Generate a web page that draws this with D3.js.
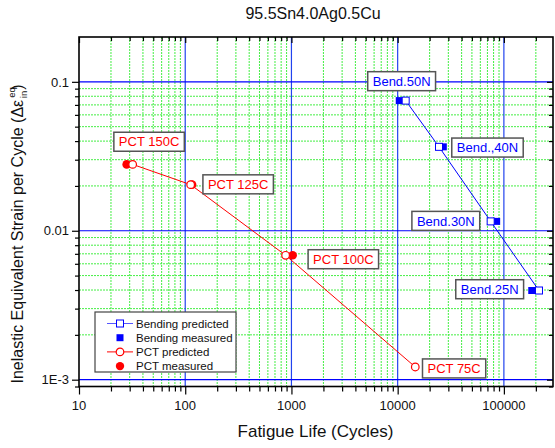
<!DOCTYPE html>
<html>
<head>
<meta charset="utf-8">
<script src="https://cdn.jsdelivr.net/npm/d3@7"></script>
<style>
  body { margin: 0; background: #fff; }
  svg { font-family: "Liberation Sans", Arial, sans-serif; }
</style>
</head>
<body>
<svg id="chart" width="555" height="448"></svg>
<script>
// --- data ---
const bendLabels = ["Bend.50N", "Bend.,40N", "Bend.30N", "Bend.25N"];
const bendPredLife = [11900, 24500, 75100, 214000];
const bendMeasLife = [10350, 26900, 85500, 183000];
const bendStrain = [0.0748, 0.0366, 0.01156, 0.00397];
// where each label box sits (data units, box centre)
const bendLabelLife = [10900, 70100, 28400, 73500];
const bendLabelStrain = [0.101, 0.0362, 0.01165, 0.00405];

const pctLabels = ["PCT 150C", "PCT 125C", "PCT 100C", "PCT 75C"];
const pctPredLife = [32, 112.5, 881, 14650];
const pctMeasLife = [28.1, 116, 1026, null];
const pctStrain = [0.0279, 0.0204, 0.00684, 0.001217];
const pctLabelLife = [45.7, 315, 3080, 34000];
const pctLabelStrain = [0.0396, 0.0205, 0.00644, 0.00119];

const xMajorTicks = [10, 100, 1000, 10000, 100000];
const xTickLabels = ["10", "100", "1000", "10000", "100000"];
const yMajorTicks = [0.001, 0.01, 0.1];
const yTickLabels = ["1E-3", "0.01", "0.1"];

const legendItems = ["Bending predicted", "Bending measured", "PCT predicted", "PCT measured"];

const svg = d3.select("#chart");
const margin = { left: 79, top: 37, right: 2, bottom: 61.5 };
const width = 555 - margin.left - margin.right;
const height = 448 - margin.top - margin.bottom;

const x = d3.scaleLog().domain([10, 290000]).range([0, width]);
const y = d3.scaleLog().domain([0.0009, 0.2]).range([height, 0]);

const g = svg.append("g").attr("transform", `translate(${margin.left},${margin.top})`);

// minor positions: 2..9 in every decade
const minorOf = (lo, hi) => {
  const out = [];
  for (let d = lo; d < hi; d *= 10)
    for (let k = 2; k <= 9; k++) out.push(d * k);
  return out;
};
const xMinor = minorOf(10, 1e6).filter(v => v < x.domain()[1]);
const yMinor = minorOf(0.0001, 1).filter(v => v > y.domain()[0] && v < y.domain()[1]);

// grid
const grid = g.append("g");
grid.selectAll(".xminor").data(xMinor).join("line")
    .attr("x1", d => x(d)).attr("x2", d => x(d)).attr("y1", 0).attr("y2", height)
    .attr("stroke", "#44ee44").attr("stroke-dasharray", "2,1");
grid.selectAll(".yminor").data(yMinor).join("line")
    .attr("y1", d => y(d)).attr("y2", d => y(d)).attr("x1", 0).attr("x2", width)
    .attr("stroke", "#44ee44").attr("stroke-dasharray", "2,1");
grid.selectAll(".xmajor").data(xMajorTicks.slice(1)).join("line")
    .attr("x1", d => x(d)).attr("x2", d => x(d)).attr("y1", 0).attr("y2", height)
    .attr("stroke", "#2244ee").attr("stroke-width", 1.2);
grid.selectAll(".ymajor").data(yMajorTicks).join("line")
    .attr("y1", d => y(d)).attr("y2", d => y(d)).attr("x1", 0).attr("x2", width)
    .attr("stroke", "#0000ff").attr("stroke-width", 1.2);

// axes (ticks only, labels drawn separately)
const tickStyle = sel => {
  sel.select(".domain").remove();
  sel.selectAll("line").attr("stroke", "#000").attr("stroke-width", 1.2);
  sel.selectAll("text").remove();
};
g.append("g").attr("transform", `translate(0,${height})`)
    .call(d3.axisBottom(x).tickValues(xMajorTicks).tickSize(8)).call(tickStyle);
g.append("g").attr("transform", `translate(0,${height})`)
    .call(d3.axisBottom(x).tickValues(xMinor).tickSize(5)).call(tickStyle);
g.append("g").call(d3.axisBottom(x).tickValues(xMajorTicks).tickSize(6)).call(tickStyle);
g.append("g").call(d3.axisBottom(x).tickValues(xMinor).tickSize(4)).call(tickStyle);
g.append("g").call(d3.axisLeft(y).tickValues(yMajorTicks).tickSize(7)).call(tickStyle);
g.append("g").call(d3.axisLeft(y).tickValues(yMinor).tickSize(4)).call(tickStyle);
g.append("g").attr("transform", `translate(${width},0)`)
    .call(d3.axisLeft(y).tickValues(yMajorTicks).tickSize(6)).call(tickStyle);
g.append("g").attr("transform", `translate(${width},0)`)
    .call(d3.axisLeft(y).tickValues(yMinor).tickSize(4)).call(tickStyle);

g.append("rect").attr("width", width).attr("height", height)
    .attr("fill", "none").attr("stroke", "#000").attr("stroke-width", 1.6);

// tick labels
g.selectAll(".xlab").data(xMajorTicks).join("text")
    .attr("x", d => x(d)).attr("y", height + 23)
    .attr("text-anchor", "middle").attr("font-size", 13).attr("fill", "#111")
    .text((d, i) => xTickLabels[i]);
g.selectAll(".ylab").data(yMajorTicks).join("text")
    .attr("x", -10).attr("y", d => y(d)).attr("dy", "0.36em")
    .attr("text-anchor", "end").attr("font-size", 13).attr("fill", "#111")
    .text((d, i) => yTickLabels[i]);

// lines + markers
const line = d3.line().x(d => x(d[0])).y(d => y(d[1]));
const bendPred = bendPredLife.map((v, i) => [v, bendStrain[i]]);
const bendMeas = bendMeasLife.map((v, i) => [v, bendStrain[i]]);
const pctPred = pctPredLife.map((v, i) => [v, pctStrain[i]]);
const pctMeas = pctMeasLife.map((v, i) => [v, pctStrain[i]]).filter(d => d[0] != null);

g.append("path").attr("d", line(bendPred)).attr("fill", "none").attr("stroke", "#0000ff").attr("stroke-width", 1);
g.append("path").attr("d", line(pctPred)).attr("fill", "none").attr("stroke", "#ff0000").attr("stroke-width", 1);

const sq = 7, r = 3.8;
g.selectAll(".bm").data(bendMeas).join("rect")
    .attr("x", d => x(d[0]) - sq / 2).attr("y", d => y(d[1]) - sq / 2)
    .attr("width", sq).attr("height", sq).attr("fill", "#0000ff");
g.selectAll(".bp").data(bendPred).join("rect")
    .attr("x", d => x(d[0]) - sq / 2).attr("y", d => y(d[1]) - sq / 2)
    .attr("width", sq).attr("height", sq).attr("fill", "#fff").attr("stroke", "#0000ff");
g.selectAll(".pm").data(pctMeas).join("circle")
    .attr("cx", d => x(d[0])).attr("cy", d => y(d[1])).attr("r", r + 0.5).attr("fill", "#ff0000");
g.selectAll(".pp").data(pctPred).join("circle")
    .attr("cx", d => x(d[0])).attr("cy", d => y(d[1])).attr("r", r).attr("fill", "#fff")
    .attr("stroke", "#ff0000").attr("stroke-width", 1.2);

// label boxes
function addLabel(text, lx, ly, color) {
  const lg = g.append("g").attr("transform", `translate(${x(lx)},${y(ly)})`);
  const t = lg.append("text").attr("text-anchor", "middle").attr("dy", "0.36em")
      .attr("font-size", 13).attr("fill", color).text(text);
  const w = t.node().getComputedTextLength() + 10;
  lg.insert("rect", "text").attr("x", -w / 2).attr("y", -9.5).attr("width", w).attr("height", 19)
      .attr("fill", "#fff").attr("stroke", "#555").attr("stroke-width", 1.5);
}
bendLabels.forEach((t, i) => addLabel(t, bendLabelLife[i], bendLabelStrain[i], "#0000ff"));
pctLabels.forEach((t, i) => addLabel(t, pctLabelLife[i], pctLabelStrain[i], "#ff0000"));

// legend
const legend = svg.append("g").attr("transform", "translate(95,312)");
legend.append("rect").attr("width", 141).attr("height", 60)
    .attr("fill", "#fff").attr("stroke", "#444").attr("stroke-width", 1.2);
const legRows = legend.selectAll(".item").data(legendItems).join("g")
    .attr("transform", (d, i) => `translate(0,${11.5 + i * 14.2})`);
legRows.each(function(d, i) {
  const row = d3.select(this);
  const col = i < 2 ? "#0000ff" : "#ff0000";
  if (i % 2 === 0) {
    row.append("line").attr("x1", 12).attr("x2", 38).attr("stroke", i < 2 ? "#5555ff" : col).attr("stroke-width", 1);
  }
  if (i === 0) row.append("rect").attr("x", 25 - 3.5).attr("y", -3.5).attr("width", 7).attr("height", 7).attr("fill", "#fff").attr("stroke", col);
  if (i === 1) row.append("rect").attr("x", 25 - 3.5).attr("y", -3.5).attr("width", 7).attr("height", 7).attr("fill", col);
  if (i === 2) row.append("circle").attr("cx", 25).attr("r", 3.8).attr("fill", "#fff").attr("stroke", col).attr("stroke-width", 1.2);
  if (i === 3) row.append("circle").attr("cx", 25).attr("r", 4.2).attr("fill", col);
  row.append("text").attr("x", 41).attr("dy", "0.36em").attr("font-size", 11.5).attr("fill", "#111").text(d);
});

// titles
svg.append("text").attr("x", 313).attr("y", 19).attr("text-anchor", "middle")
    .attr("font-size", 16).attr("fill", "#111").text("95.5Sn4.0Ag0.5Cu");
svg.append("text").attr("x", 315.5).attr("y", 437).attr("text-anchor", "middle")
    .attr("font-size", 17).attr("fill", "#111").text("Fatigue Life (Cycles)");

const yTitle = svg.append("text").attr("transform", "translate(23,234) rotate(-90)")
    .attr("text-anchor", "middle").attr("font-size", 16).attr("fill", "#111");
yTitle.append("tspan").text("Inelastic Equivalent Strain per Cycle (\u0394\u03b5");
yTitle.append("tspan").attr("font-size", 9.5).attr("dy", -8).attr("dx", 2).text("eq");
yTitle.append("tspan").attr("font-size", 9.5).attr("dy", 12).attr("dx", -11).text("in");
yTitle.append("tspan").attr("dy", -4).attr("dx", 1).text(")");
</script>
</body>
</html>
